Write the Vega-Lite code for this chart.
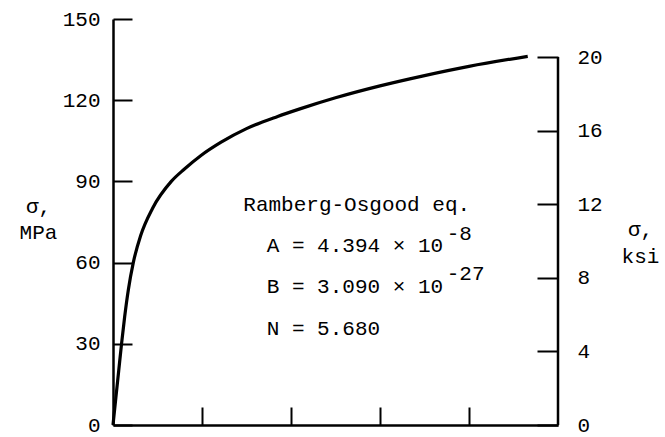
{
  "$schema": "https://vega.github.io/schema/vega-lite/v6.json",
  "width": 445,
  "height": 406,
  "autosize": "none",
  "padding": {"left": 113, "top": 19, "right": 107, "bottom": 12},
  "background": "white",
  "config": {
    "view": {"stroke": null},
    "font": "Liberation Mono",
    "axis": {
      "grid": false,
      "domainColor": "black",
      "domainWidth": 2.5,
      "tickColor": "black",
      "tickWidth": 2,
      "labelFont": "Liberation Mono",
      "labelFontSize": 21,
      "labelColor": "black",
      "titleFont": "Liberation Mono",
      "titleFontSize": 21,
      "titleFontWeight": "normal",
      "titleColor": "black"
    }
  },
  "layer": [
    {
      "layer": [
        {
          "data": {"values": [
            {"strain": 0, "stress": 0},
            {"strain": 0.0128, "stress": 20},
            {"strain": 0.0192, "stress": 30},
            {"strain": 0.0262, "stress": 40},
            {"strain": 0.0345, "stress": 50},
            {"strain": 0.0456, "stress": 60},
            {"strain": 0.0622, "stress": 70},
            {"strain": 0.0887, "stress": 80},
            {"strain": 0.131, "stress": 90},
            {"strain": 0.160, "stress": 94.5},
            {"strain": 0.197, "stress": 99.5},
            {"strain": 0.243, "stress": 104.5},
            {"strain": 0.300, "stress": 109.5},
            {"strain": 0.370, "stress": 114},
            {"strain": 0.420, "stress": 116.8},
            {"strain": 0.500, "stress": 120.9},
            {"strain": 0.600, "stress": 125.3},
            {"strain": 0.700, "stress": 129.1},
            {"strain": 0.800, "stress": 132.5},
            {"strain": 0.932, "stress": 136.2}
          ]},
          "mark": {"type": "line", "color": "black", "strokeWidth": 3.2, "interpolate": "monotone"},
          "encoding": {
            "x": {
              "field": "strain", "type": "quantitative",
              "scale": {"domain": [0, 1], "nice": false},
              "axis": {"title": null, "values": [0.2, 0.4, 0.6, 0.8], "labels": false, "tickSize": -18, "orient": "bottom"}
            },
            "y": {
              "field": "stress", "type": "quantitative",
              "scale": {"domain": [0, 150], "nice": false},
              "axis": {
                "orient": "left",
                "values": [0, 30, 60, 90, 120, 150],
                "tickSize": -19,
                "labelPadding": 32,
                "title": ["σ,", "MPa"],
                "titleAngle": 0,
                "titleAlign": "center",
                "titleBaseline": "alphabetic",
                "titleLineHeight": 26,
                "titleX": -75,
                "titleY": 193
              }
            }
          }
        },
        {
          "data": {"values": [
            {"strain": 0.2928, "stress": 79.17, "label": "Ramberg-Osgood eq."},
            {"strain": 0.3454, "stress": 64.03, "label": "A = 4.394 × 10"},
            {"strain": 0.3454, "stress": 48.66, "label": "B = 3.090 × 10"},
            {"strain": 0.3454, "stress": 33.25, "label": "N = 5.680"}
          ]},
          "mark": {"type": "text", "align": "left", "baseline": "alphabetic", "fontSize": 21, "font": "Liberation Mono", "color": "black"},
          "encoding": {
            "x": {"field": "strain", "type": "quantitative"},
            "y": {"field": "stress", "type": "quantitative"},
            "text": {"field": "label"}
          }
        },
        {
          "data": {"values": [
            {"strain": 0.750, "stress": 68.35, "label": "-8"},
            {"strain": 0.750, "stress": 53.57, "label": "-27"}
          ]},
          "mark": {"type": "text", "align": "left", "baseline": "alphabetic", "fontSize": 21, "font": "Liberation Mono", "color": "black"},
          "encoding": {
            "x": {"field": "strain", "type": "quantitative"},
            "y": {"field": "stress", "type": "quantitative"},
            "text": {"field": "label"}
          }
        }
      ]
    },
    {
      "data": {"values": [{"strain": 1, "ksi": 0, "ksi2": 20}]},
      "mark": {"type": "rule", "color": "black", "strokeWidth": 2.5},
      "encoding": {
        "x": {"field": "strain", "type": "quantitative"},
        "y": {
          "field": "ksi", "type": "quantitative",
          "scale": {"domain": [0, 22.07], "nice": false},
          "axis": {
            "orient": "right",
            "domain": false,
            "values": [0, 4, 8, 12, 16, 20],
            "tickSize": -21,
            "labelPadding": 40,
            "title": ["σ,", "ksi"],
            "titleAngle": 0,
            "titleAlign": "center",
            "titleBaseline": "alphabetic",
            "titleLineHeight": 27,
            "titleX": 82,
            "titleY": 216
          }
        },
        "y2": {"field": "ksi2"}
      }
    }
  ],
  "resolve": {"scale": {"y": "independent"}, "axis": {"y": "independent"}}
}
